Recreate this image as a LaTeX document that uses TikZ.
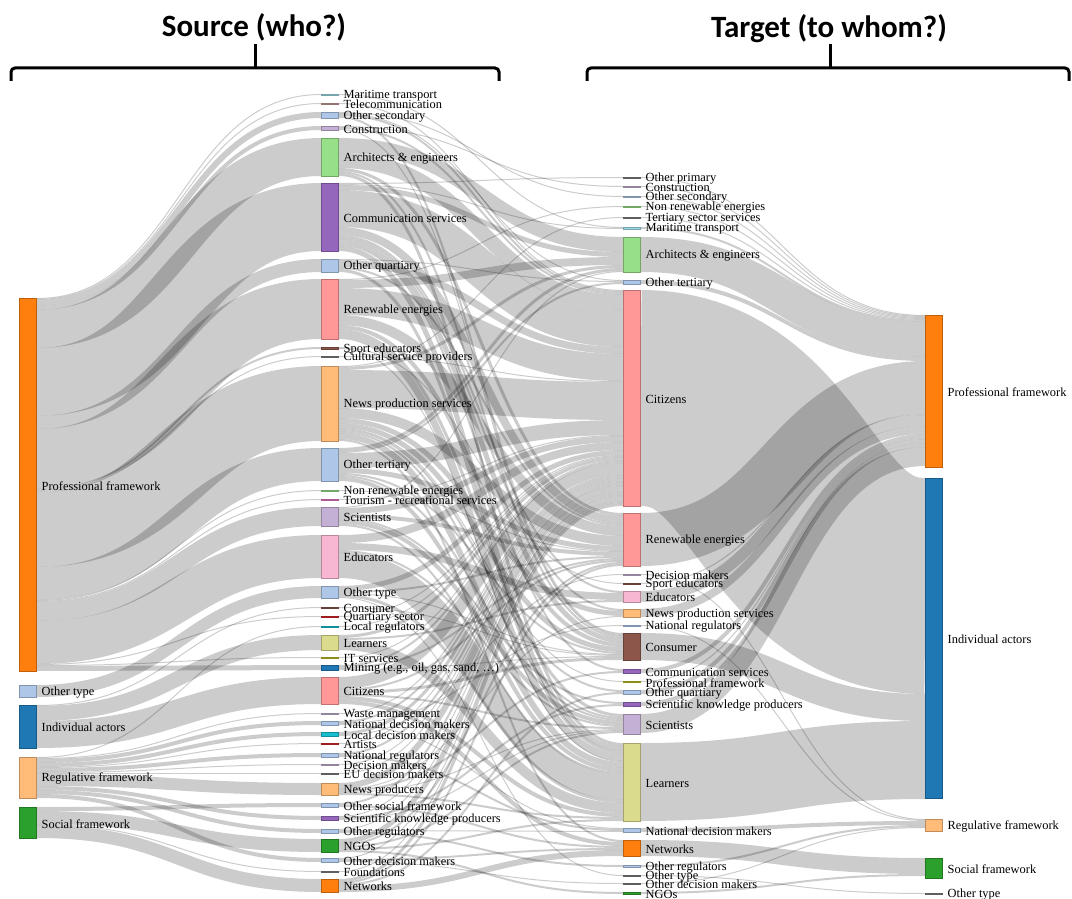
\documentclass[tikz,border=0pt]{standalone}
\usepackage{fontspec}
\setmainfont{Liberation Serif}
\newfontfamily\headfont{Carlito}
\usetikzlibrary{calc}
\pgfdeclarelayer{bg}
\pgfsetlayers{bg,main}
\definecolor{cblue}{HTML}{1F77B4}
\definecolor{clblue}{HTML}{AEC7E8}
\definecolor{corange}{HTML}{FF7F0E}
\definecolor{clorange}{HTML}{FFBB78}
\definecolor{cgreen}{HTML}{2CA02C}
\definecolor{clgreen}{HTML}{98DF8A}
\definecolor{cred}{HTML}{D62728}
\definecolor{clred}{HTML}{FF9896}
\definecolor{cpurple}{HTML}{9467BD}
\definecolor{clpurple}{HTML}{C5B0D5}
\definecolor{cbrown}{HTML}{8C564B}
\definecolor{clbrown}{HTML}{C49C94}
\definecolor{cpink}{HTML}{E377C2}
\definecolor{clpink}{HTML}{F7B6D2}
\definecolor{cgray}{HTML}{7F7F7F}
\definecolor{colive}{HTML}{BCBD22}
\definecolor{clolive}{HTML}{DBDB8D}
\definecolor{ccyan}{HTML}{17BECF}
\definecolor{clcyan}{HTML}{9EDAE5}
\tikzset{
  bar/.style={rectangle, minimum width=17pt, inner sep=0pt, outer sep=0pt, line width=0.7pt},
  lab/.style={anchor=west, inner sep=0pt, font=\fontsize{12.4}{13}\selectfont},
  band/.style={draw=black, draw opacity=0.2},
  head/.style={font=\headfont\bfseries\fontsize{31}{34}\selectfont},
  brace/.style={line width=3pt, rounded corners=4pt}
}
\newcommand\nd[6]{%
  \node[bar, minimum height=#4pt, fill=#5, draw=#5!75!black] (#1) at (#2,#3+#4/2) {};
  \node[lab] (#1-t) at ([xshift=5pt,yshift=-1.2pt]#1.east) {#6};
}
\makeatletter
\newcommand\lk[4][142.5]{%
  \@ifundefined{o@#2}{\expandafter\gdef\csname o@#2\endcsname{0}}{}%
  \@ifundefined{i@#3}{\expandafter\gdef\csname i@#3\endcsname{0}}{}%
  \pgfmathsetmacro\lkya{\csname o@#2\endcsname+#4/2}%
  \pgfmathsetmacro\lkyb{\csname i@#3\endcsname+#4/2}%
  \draw[band,line width=#4pt] ($(#2.north east)+(0,\lkya)$) .. controls +(#1,0) and +(-#1,0) .. ($(#3.north west)+(0,\lkyb)$);%
  \pgfmathsetmacro\lkya{\csname o@#2\endcsname+#4}%
  \expandafter\xdef\csname o@#2\endcsname{\lkya}%
  \pgfmathsetmacro\lkyb{\csname i@#3\endcsname+#4}%
  \expandafter\xdef\csname i@#3\endcsname{\lkyb}%
}
\makeatother
\begin{document}
\begin{tikzpicture}[x=1pt,y=-1pt]
\path[use as bounding box] (0,0) rectangle (1072,899);
% headings and braces
\node[head] (hsrc) at (254,27) {Source (who?)};
\node[head] (htgt) at (829,29) {Target (to whom?)};
\draw[brace] (11,81) -- (11,68) -- (499,68) -- (499,81);
\draw[line width=3pt] (255,69) -- (255,44);
\draw[brace] (587,81) -- (587,68) -- (1069,68) -- (1069,81);
\draw[line width=3pt] (830,69) -- (830,44);
% column 1
\nd{A-prof}{28}{298}{373}{corange}{Professional framework}
\nd{A-otype}{28}{685}{12}{clblue}{Other type}
\nd{A-ind}{28}{705}{43}{cblue}{Individual actors}
\nd{A-reg}{28}{757}{41}{clorange}{Regulative framework}
\nd{A-soc}{28}{807}{31}{cgreen}{Social framework}
% column 2
\nd{B-mt}{330}{94}{1}{clcyan}{Maritime transport}
\nd{B-tel}{330}{103}{1}{clbrown}{Telecommunication}
\nd{B-osec}{330}{112}{6}{clblue}{Other secondary}
\nd{B-cons}{330}{126}{4}{clpurple}{Construction}
\nd{B-arch}{330}{138}{38}{clgreen}{Architects \& engineers}
\nd{B-comm}{330}{183}{68}{cpurple}{Communication services}
\nd{B-oq}{330}{259}{13}{clblue}{Other quartiary}
\nd{B-ren}{330}{279}{60}{clred}{Renewable energies}
\nd{B-sport}{330}{347}{2}{cbrown}{Sport educators}
\nd{B-cult}{330}{356}{1}{cgray}{Cultural service providers}
\nd{B-news}{330}{366}{75}{clorange}{News production services}
\nd{B-oter}{330}{448}{33}{clblue}{Other tertiary}
\nd{B-nren}{330}{490}{1}{clgreen}{Non renewable energies}
\nd{B-tour}{330}{499}{1}{cpink}{Tourism - recreational services}
\nd{B-sci}{330}{507}{19}{clpurple}{Scientists}
\nd{B-edu}{330}{535}{43}{clpink}{Educators}
\nd{B-otype}{330}{586}{12}{clblue}{Other type}
\nd{B-consu}{330}{607}{1}{cbrown}{Consumer}
\nd{B-quart}{330}{616}{1}{cred}{Quartiary sector}
\nd{B-locreg}{330}{626}{1}{ccyan}{Local regulators}
\nd{B-learn}{330}{635}{15}{clolive}{Learners}
\nd{B-it}{330}{657}{1}{colive}{IT services}
\nd{B-mining}{330}{665}{5}{cblue}{Mining (e.g., oil, gas, sand, \dots)}
\nd{B-cit}{330}{677}{27}{clred}{Citizens}
\nd{B-waste}{330}{713}{1}{clpurple}{Waste management}
\nd{B-natdm}{330}{721}{4}{clblue}{National decision makers}
\nd{B-locdm}{330}{732}{4}{ccyan}{Local decision makers}
\nd{B-art}{330}{743}{1}{cred}{Artists}
\nd{B-natreg}{330}{753}{4}{clblue}{National regulators}
\nd{B-dm}{330}{764}{1}{clpurple}{Decision makers}
\nd{B-eudm}{330}{773}{1}{cgray}{EU decision makers}
\nd{B-newsp}{330}{783}{12}{clorange}{News producers}
\nd{B-osf}{330}{803}{4}{clblue}{Other social framework}
\nd{B-skp}{330}{816}{4}{cpurple}{Scientific knowledge producers}
\nd{B-oreg}{330}{829}{4}{clblue}{Other regulators}
\nd{B-ngo}{330}{839}{13}{cgreen}{NGOs}
\nd{B-odm}{330}{858}{4}{clblue}{Other decision makers}
\nd{B-found}{330}{871}{1}{cgray}{Foundations}
\nd{B-netw}{330}{879}{13}{corange}{Networks}
% column 3
\nd{C-op}{632}{177}{1}{cgray}{Other primary}
\nd{C-cons}{632}{186}{1.5}{clpurple}{Construction}
\nd{C-osec}{632}{196}{1.5}{clblue}{Other secondary}
\nd{C-nren}{632}{206}{1.5}{clgreen}{Non renewable energies}
\nd{C-ter}{632}{217}{1}{cgray}{Tertiary sector services}
\nd{C-mt}{632}{227}{2}{clcyan}{Maritime transport}
\nd{C-arch}{632}{237}{35}{clgreen}{Architects \& engineers}
\nd{C-oter}{632}{280}{4}{clblue}{Other tertiary}
\nd{C-cit}{632}{290}{216}{clred}{Citizens}
\nd{C-ren}{632}{513}{53}{clred}{Renewable energies}
\nd{C-dm}{632}{574}{1}{clpurple}{Decision makers}
\nd{C-sport}{632}{583}{1}{cbrown}{Sport educators}
\nd{C-edu}{632}{591}{11}{clpink}{Educators}
\nd{C-news}{632}{609}{8}{clorange}{News production services}
\nd{C-natreg}{632}{625}{1}{clblue}{National regulators}
\nd{C-consu}{632}{633}{27}{cbrown}{Consumer}
\nd{C-comm}{632}{669}{4}{cpurple}{Communication services}
\nd{C-prof}{632}{681}{1}{colive}{Professional framework}
\nd{C-oq}{632}{690}{4}{clblue}{Other quartiary}
\nd{C-skp}{632}{702}{4}{cpurple}{Scientific knowledge producers}
\nd{C-sci}{632}{714}{20}{clpurple}{Scientists}
\nd{C-learn}{632}{743}{78}{clolive}{Learners}
\nd{C-natdm}{632}{828}{4}{clblue}{National decision makers}
\nd{C-netw}{632}{840}{16}{corange}{Networks}
\nd{C-oreg}{632}{865}{2}{clblue}{Other regulators}
\nd{C-otype}{632}{875}{1}{cgray}{Other type}
\nd{C-odm}{632}{883}{1}{cgray}{Other decision makers}
\nd{C-ngo}{632}{892}{2}{cgreen}{NGOs}
% column 4
\nd{D-prof}{934}{315}{152}{corange}{Professional framework}
\nd{D-ind}{934}{478}{320}{cblue}{Individual actors}
\nd{D-reg}{934}{819}{12}{clorange}{Regulative framework}
\nd{D-soc}{934}{858}{20}{cgreen}{Social framework}
\nd{D-otype}{934}{893}{1}{cgray}{Other type}
\begin{pgfonlayer}{bg}
% col1 -> col2
\lk{A-prof}{B-mt}{1}\lk{A-prof}{B-tel}{1}\lk{A-prof}{B-osec}{6}\lk{A-prof}{B-cons}{4}
\lk{A-prof}{B-arch}{38}\lk{A-prof}{B-comm}{68}\lk{A-prof}{B-oq}{13}\lk{A-prof}{B-ren}{60}
\lk{A-prof}{B-sport}{2}\lk{A-prof}{B-cult}{1}\lk{A-prof}{B-news}{75}\lk{A-prof}{B-oter}{33}
\lk{A-prof}{B-nren}{1}\lk{A-prof}{B-tour}{1}\lk{A-prof}{B-sci}{19}\lk{A-prof}{B-edu}{43}
\lk{A-prof}{B-quart}{1}\lk{A-prof}{B-it}{1}\lk{A-prof}{B-mining}{5}
\lk{A-otype}{B-otype}{12}
\lk{A-ind}{B-consu}{1}\lk{A-ind}{B-learn}{15}\lk{A-ind}{B-cit}{27}
\lk{A-reg}{B-locreg}{1}\lk{A-reg}{B-waste}{1}\lk{A-reg}{B-natdm}{4}\lk{A-reg}{B-locdm}{4}
\lk{A-reg}{B-art}{1}\lk{A-reg}{B-natreg}{4}\lk{A-reg}{B-dm}{1}\lk{A-reg}{B-eudm}{1}
\lk{A-reg}{B-newsp}{12}\lk{A-reg}{B-skp}{4}\lk{A-reg}{B-oreg}{4}\lk{A-reg}{B-odm}{4}
\lk{A-soc}{B-osf}{4}\lk{A-soc}{B-ngo}{13}\lk{A-soc}{B-found}{1}\lk{A-soc}{B-netw}{13}
% col2 -> col3
\lk{B-mt}{C-mt}{1}
\lk{B-tel}{C-cit}{1}
\lk{B-osec}{C-osec}{1}\lk{B-osec}{C-oter}{1}\lk{B-osec}{C-cit}{2}\lk{B-osec}{C-consu}{2}
\lk{B-cons}{C-cons}{1}\lk{B-cons}{C-cit}{2}\lk{B-cons}{C-consu}{1}
\lk{B-arch}{C-arch}{15}\lk{B-arch}{C-cit}{15}\lk{B-arch}{C-ren}{3}\lk{B-arch}{C-consu}{2}\lk{B-arch}{C-learn}{3}
\lk{B-comm}{C-op}{1}\lk{B-comm}{C-mt}{1}\lk{B-comm}{C-arch}{5}\lk{B-comm}{C-cit}{37}\lk{B-comm}{C-ren}{8}
\lk{B-comm}{C-edu}{2}\lk{B-comm}{C-news}{2}\lk{B-comm}{C-consu}{5}\lk{B-comm}{C-comm}{2}\lk{B-comm}{C-learn}{5}
\lk{B-oq}{C-oter}{1}\lk{B-oq}{C-cit}{7}\lk{B-oq}{C-ren}{2}\lk{B-oq}{C-learn}{3}
\lk{B-ren}{C-nren}{1}\lk{B-ren}{C-arch}{8}\lk{B-ren}{C-cit}{27}\lk{B-ren}{C-ren}{10}\lk{B-ren}{C-consu}{4}
\lk{B-ren}{C-sci}{3}\lk{B-ren}{C-learn}{7}
\lk{B-sport}{C-sport}{1}\lk{B-sport}{C-learn}{1}
\lk{B-cult}{C-cit}{1}
\lk{B-news}{C-ter}{1}\lk{B-news}{C-arch}{3}\lk{B-news}{C-cit}{38}\lk{B-news}{C-ren}{10}\lk{B-news}{C-news}{5}
\lk{B-news}{C-consu}{5}\lk{B-news}{C-prof}{1}\lk{B-news}{C-oq}{2}\lk{B-news}{C-sci}{2}\lk{B-news}{C-learn}{6}\lk{B-news}{C-netw}{2}
\lk{B-oter}{C-arch}{3}\lk{B-oter}{C-oter}{2}\lk{B-oter}{C-cit}{15}\lk{B-oter}{C-ren}{5}\lk{B-oter}{C-consu}{2}
\lk{B-oter}{C-sci}{2}\lk{B-oter}{C-learn}{4}
\lk{B-nren}{C-ren}{1}
\lk{B-tour}{C-cit}{1}
\lk{B-sci}{C-arch}{1}\lk{B-sci}{C-cit}{6}\lk{B-sci}{C-ren}{4}\lk{B-sci}{C-skp}{2}\lk{B-sci}{C-sci}{4}\lk{B-sci}{C-learn}{2}
\lk{B-edu}{C-cit}{8}\lk{B-edu}{C-edu}{7}\lk{B-edu}{C-sci}{2}\lk{B-edu}{C-learn}{26}
\lk{B-otype}{C-cit}{5}\lk{B-otype}{C-ren}{2}\lk{B-otype}{C-consu}{1}\lk{B-otype}{C-learn}{3}\lk{B-otype}{C-otype}{1}
\lk{B-consu}{C-consu}{1}
\lk{B-quart}{C-cit}{1}
\lk{B-locreg}{C-cit}{1}
\lk{B-learn}{C-cit}{3}\lk{B-learn}{C-edu}{2}\lk{B-learn}{C-learn}{10}
\lk{B-it}{C-cit}{1}
\lk{B-mining}{C-cit}{2}\lk{B-mining}{C-ren}{2}\lk{B-mining}{C-consu}{1}
\lk{B-cit}{C-cit}{12}\lk{B-cit}{C-ren}{2}\lk{B-cit}{C-consu}{3}\lk{B-cit}{C-sci}{2}\lk{B-cit}{C-learn}{4}\lk{B-cit}{C-netw}{4}
\lk{B-waste}{C-cit}{1}
\lk{B-natdm}{C-cit}{2}\lk{B-natdm}{C-natreg}{1}\lk{B-natdm}{C-natdm}{1}
\lk{B-locdm}{C-cit}{3}\lk{B-locdm}{C-dm}{1}
\lk{B-art}{C-cit}{1}
\lk{B-natreg}{C-cit}{2}\lk{B-natreg}{C-natdm}{2}
\lk{B-dm}{C-cit}{1}
\lk{B-eudm}{C-cit}{1}
\lk{B-newsp}{C-cit}{6}\lk{B-newsp}{C-news}{1}\lk{B-newsp}{C-comm}{2}\lk{B-newsp}{C-sci}{1}\lk{B-newsp}{C-learn}{2}
\lk{B-osf}{C-cit}{2}\lk{B-osf}{C-netw}{2}
\lk{B-skp}{C-cit}{1}\lk{B-skp}{C-skp}{2}\lk{B-skp}{C-sci}{1}
\lk{B-oreg}{C-cit}{1}\lk{B-oreg}{C-natdm}{1}\lk{B-oreg}{C-oreg}{2}
\lk{B-ngo}{C-cit}{5}\lk{B-ngo}{C-ren}{2}\lk{B-ngo}{C-sci}{2}\lk{B-ngo}{C-learn}{2}\lk{B-ngo}{C-ngo}{2}
\lk{B-odm}{C-cit}{1}\lk{B-odm}{C-netw}{2}\lk{B-odm}{C-odm}{1}
\lk{B-found}{C-cit}{1}
\lk{B-netw}{C-cit}{3}\lk{B-netw}{C-ren}{2}\lk{B-netw}{C-oq}{2}\lk{B-netw}{C-netw}{6}
% col3 -> col4
\lk{C-op}{D-prof}{1}\lk{C-cons}{D-prof}{1}\lk{C-osec}{D-prof}{1}\lk{C-nren}{D-prof}{1}
\lk{C-ter}{D-prof}{1}\lk{C-mt}{D-prof}{2}\lk{C-arch}{D-prof}{35}\lk{C-oter}{D-prof}{4}
\lk{C-cit}{D-ind}{216}\lk{C-ren}{D-prof}{53}\lk{C-dm}{D-reg}{1}\lk{C-sport}{D-prof}{1}
\lk{C-edu}{D-prof}{11}\lk{C-news}{D-prof}{8}\lk{C-natreg}{D-reg}{1}\lk{C-consu}{D-ind}{27}
\lk{C-comm}{D-prof}{4}\lk{C-prof}{D-prof}{1}\lk{C-oq}{D-prof}{4}\lk{C-skp}{D-prof}{4}
\lk{C-sci}{D-prof}{19}\lk{C-learn}{D-ind}{78}\lk{C-natdm}{D-reg}{4}\lk{C-netw}{D-soc}{16}
\lk{C-oreg}{D-reg}{2}\lk{C-otype}{D-otype}{1}\lk{C-odm}{D-reg}{1}\lk{C-ngo}{D-soc}{2}
\end{pgfonlayer}
\end{tikzpicture}
\end{document}
